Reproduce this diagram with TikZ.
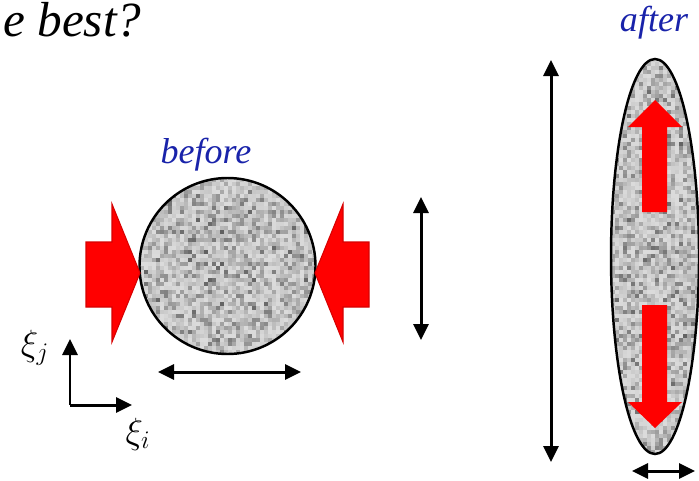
\documentclass[tikz,border=0pt]{standalone}
\usepackage{fontspec}
\setmainfont{Liberation Serif}[ItalicFont={Liberation Serif Italic}]
\newfontfamily\timesit{Liberation Serif Italic}
\usepackage{xcolor}
\usetikzlibrary{arrows.meta, positioning, shapes.geometric}

\definecolor{labelblue}{RGB}{25,35,170}
\definecolor{pushred}{RGB}{255,0,0}
\definecolor{pushedge}{RGB}{215,0,0}

\tikzset{
  dimarrow/.style={{Triangle[length=0.32cm,width=0.3cm]}-{Triangle[length=0.32cm,width=0.3cm]}, line width=1.7pt},
  axisarrow/.style={-{Triangle[length=0.32cm,width=0.3cm]}, line width=1.7pt},
  statelbl/.style={text=labelblue, font=\fontsize{20.5}{24}\timesit, anchor=base},
  grainbox/.style={draw=black, line width=1.4pt, inner sep=0pt}
}

\begin{document}
\begin{tikzpicture}
  \useasboundingbox (0,0) rectangle (13.98,9.6);
  \pgfmathsetseed{11}

  % title fragment
  \node[font=\fontsize{28}{32}\timesit, anchor=base west, inner sep=0pt] (title) at (0.06,8.88) {e best?};

  % grain texture, before
  \begin{scope}
    \clip (4.55,4.28) circle (1.76);
    \foreach \i in {0,...,44} {
      \foreach \j in {0,...,44} {
        \pgfmathsetmacro\g{int(14+50*rnd*rnd)}
        \fill[black!\g] (2.79+\i*0.08, 2.52+\j*0.08) rectangle ++(0.09,0.09);
      }
    }
  \end{scope}
  \node[grainbox, circle, minimum size=3.52cm] (before) at (4.55,4.28) {};
  \node[statelbl] (beforelbl) at (4.12,6.34) {before};

  % squeezing arrows
  \filldraw[fill=pushred, draw=pushedge, line width=0.6pt] (1.72,4.76) -- (2.24,4.76) -- (2.24,5.52) -- (2.80,4.14) -- (2.24,2.76) -- (2.24,3.46) -- (1.72,3.46) -- cycle;
  \filldraw[fill=pushred, draw=pushedge, line width=0.6pt] (7.38,4.76) -- (6.86,4.76) -- (6.86,5.52) -- (6.30,4.14) -- (6.86,2.76) -- (6.86,3.46) -- (7.38,3.46) -- cycle;

  % sizes before
  \coordinate (bvtop) at (8.42,5.66);
  \coordinate (bvbot) at (8.42,2.80);
  \draw[dimarrow] (bvtop) -- (bvbot);
  \coordinate (bhleft) at (3.16,2.16);
  \coordinate (bhright) at (6.02,2.16);
  \draw[dimarrow] (bhleft) -- (bhright);

  % axes
  \coordinate (origin) at (1.40,1.50);
  \coordinate (jend) at (1.40,2.82);
  \coordinate (iend) at (2.64,1.50);
  \draw[axisarrow] (origin) -- (jend);
  \draw[axisarrow] (origin) -- (iend);
  \node[font=\fontsize{21}{24}\selectfont] (xij) at (0.70,2.64) {$\xi_j$};
  \node[font=\fontsize{21}{24}\selectfont] (xii) at (2.76,0.92) {$\xi_i$};

  % grain texture, after
  \begin{scope}
    \clip (13.10,4.47) ellipse (0.88 and 3.95);
    \foreach \i in {0,...,22} {
      \foreach \j in {0,...,99} {
        \pgfmathsetmacro\g{int(14+50*rnd*rnd)}
        \fill[black!\g] (12.22+\i*0.08, 0.52+\j*0.08) rectangle ++(0.09,0.09);
      }
    }
  \end{scope}
  \node[grainbox, ellipse, minimum width=1.76cm, minimum height=7.9cm] (after) at (13.10,4.47) {};
  \node[statelbl] (afterlbl) at (13.08,8.98) {after};

  % stretching arrows
  \fill[pushred] (13.10,7.60) -- (13.64,7.06) -- (13.34,7.06) -- (13.34,5.36) -- (12.84,5.36) -- (12.84,7.06) -- (12.56,7.06) -- cycle;
  \fill[pushred] (13.10,1.04) -- (13.64,1.56) -- (13.34,1.56) -- (13.34,3.50) -- (12.84,3.50) -- (12.84,1.56) -- (12.56,1.56) -- cycle;

  % sizes after
  \coordinate (avtop) at (11.02,8.40);
  \coordinate (avbot) at (11.02,0.36);
  \draw[dimarrow] (avtop) -- (avbot);
  \coordinate (ahleft) at (12.64,0.18);
  \coordinate (ahright) at (13.90,0.18);
  \draw[dimarrow] (ahleft) -- (ahright);
\end{tikzpicture}
\end{document}
